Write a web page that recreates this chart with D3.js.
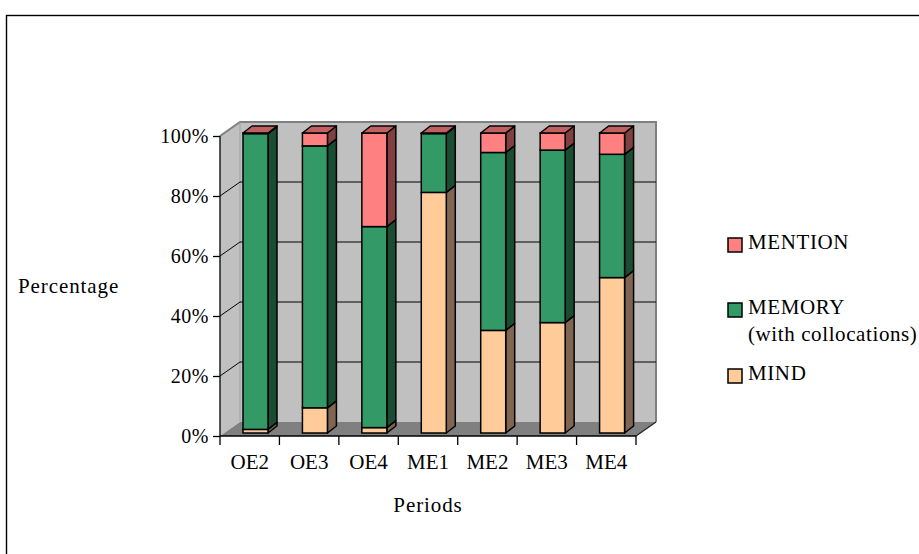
<!DOCTYPE html>
<html>
<head>
<meta charset="utf-8">
<script src="https://cdn.jsdelivr.net/npm/d3@7"></script>
<style>
  html, body { margin: 0; padding: 0; background: #fff; }
  svg { display: block; }
  svg text { font-family: "Liberation Serif", "Times New Roman", serif; fill: #000; }
</style>
</head>
<body>
<div id="chart"></div>
<script>
// Stacked 3D column chart - share of MIND / MEMORY / MENTION per period

const periods = ['OE2', 'OE3', 'OE4', 'ME1', 'ME2', 'ME3', 'ME4'];
const mind    = [1.2, 8.4, 1.8, 80.2, 34.2, 36.8, 51.8];
const memory  = [98.6, 87.3, 67.0, 19.6, 59.3, 57.5, 41.1];
const mention = [0.2, 4.3, 31.2, 0.2, 6.5, 5.7, 7.1];
const seriesNames = ['MIND', 'MEMORY', 'MENTION'];
const yTicks = [0, 20, 40, 60, 80, 100];

const frontColors = { MIND: '#FFCC99', MEMORY: '#339966', MENTION: '#FF8080' };
const sideColors  = { MIND: '#806650', MEMORY: '#1A4C33', MENTION: '#804040' };
const topColors   = { MIND: '#C09973', MEMORY: '#26734D', MENTION: '#C06060' };

const serif = '"Liberation Serif", "Times New Roman", serif';

function createChart(containerId) {
    const W = 919, H = 554;
    const depthX = 20, depthY = -14;     // wall depth
    const barDX = 9, barDY = -7;         // bar depth
    const barShiftX = 3, barShiftY = -3; // bars sit a little behind the front plane

    const svg = d3.select(`#${containerId}`)
        .append('svg')
        .attr('width', W)
        .attr('height', H);

    // outer frame
    svg.append('rect')
        .attr('x', 6.5).attr('y', 15.5)
        .attr('width', 1000).attr('height', 1000)
        .style('fill', 'none')
        .style('stroke', '#000')
        .style('stroke-width', 1.4);

    const x = d3.scaleBand()
        .domain(periods)
        .range([220, 636]);

    const y = d3.scaleLinear()
        .domain([0, 100])
        .range([436, 136]);

    const x0 = x.range()[0], x1 = x.range()[1];
    const yb = y(0), yt = y(100);
    const pts = a => a.map(p => p.join(',')).join(' ');

    // walls and floor
    svg.append('polygon')
        .attr('points', pts([[x0, yb], [x0, yt], [x0 + depthX, yt + depthY], [x0 + depthX, yb + depthY]]))
        .style('fill', '#C0C0C0');
    svg.append('rect')
        .attr('x', x0 + depthX).attr('y', yt + depthY)
        .attr('width', x1 - x0).attr('height', yb - yt)
        .style('fill', '#C0C0C0');
    svg.append('polygon')
        .attr('points', pts([[x0, yb], [x1, yb], [x1 + depthX, yb + depthY], [x0 + depthX, yb + depthY]]))
        .style('fill', '#808080');

    // wall borders
    svg.append('polyline')
        .attr('points', pts([[x0, yt], [x0 + depthX, yt + depthY], [x1 + depthX, yt + depthY], [x1 + depthX, yb + depthY]]))
        .style('fill', 'none')
        .style('stroke', '#808080')
        .style('stroke-width', 2);
    svg.append('line')
        .attr('x1', x0 + depthX).attr('x2', x0 + depthX)
        .attr('y1', yt + depthY).attr('y2', yb + depthY)
        .style('stroke', '#A0A0A0')
        .style('stroke-width', 1);
    svg.append('line')
        .attr('x1', x1).attr('y1', yb)
        .attr('x2', x1 + depthX).attr('y2', yb + depthY)
        .style('stroke', '#202020')
        .style('stroke-width', 1.2);

    // gridlines
    const grid = svg.append('g').attr('class', 'grid');
    yTicks.filter(t => t > 0 && t < 100).forEach(t => {
        grid.append('polyline')
            .attr('points', pts([[x0, y(t)], [x0 + depthX, y(t) + depthY], [x1 + depthX, y(t) + depthY]]))
            .style('fill', 'none')
            .style('stroke', '#000')
            .style('stroke-width', 1);
    });

    // stacked data
    const rows = periods.map((p, i) => ({ period: p, MIND: mind[i], MEMORY: memory[i], MENTION: mention[i] }));
    const stack = d3.stack().keys(seriesNames)(rows);

    const barW = 25, barOff = 20;
    const bars = svg.append('g').attr('class', 'bars');

    periods.forEach((p, i) => {
        const g = bars.append('g');
        const bx = x(p) + barOff + barShiftX;
        let topY = null, topKey = null;
        stack.forEach(s => {
            const d = s[i];
            const ya = y(d[0]) + barShiftY;
            const yz = y(d[1]) + barShiftY;
            g.append('polygon')
                .attr('points', pts([[bx + barW, ya], [bx + barW, yz], [bx + barW + barDX, yz + barDY], [bx + barW + barDX, ya + barDY]]))
                .style('fill', sideColors[s.key])
                .style('stroke', '#000')
                .style('stroke-width', 1.5)
                .style('stroke-linejoin', 'round');
            g.append('rect')
                .attr('x', bx).attr('y', yz)
                .attr('width', barW).attr('height', Math.max(0, ya - yz))
                .style('fill', frontColors[s.key])
                .style('stroke', '#000')
                .style('stroke-width', 1.5);
            topY = yz; topKey = s.key;
        });
        g.append('polygon')
            .attr('points', pts([[bx, topY], [bx + barW, topY], [bx + barW + barDX, topY + barDY], [bx + barDX, topY + barDY]]))
            .style('fill', topColors[topKey])
            .style('stroke', '#000')
            .style('stroke-width', 1.5)
            .style('stroke-linejoin', 'round');
    });

    // y axis
    const yAxis = svg.append('g')
        .attr('transform', `translate(${x0},0)`)
        .call(d3.axisLeft(y).tickValues(yTicks).tickSize(7).tickPadding(4).tickFormat(d => d + '%'));
    yAxis.select('.domain').attr('d', `M0,${yt}V${yb}`).style('stroke', '#000').style('stroke-width', 1.3);
    yAxis.selectAll('.tick line').style('stroke', '#000').style('stroke-width', 1.3);
    yAxis.selectAll('.tick text')
        .style('font-size', '20px')
        .style('font-family', serif)
        .style('letter-spacing', '0.5px')
        .style('fill', '#000');

    // x axis
    const xAxis = svg.append('g')
        .attr('transform', `translate(0,${yb})`)
        .call(d3.axisBottom(x).tickSize(0).tickPadding(18));
    xAxis.select('.domain').attr('d', `M${x0},0H${x1}`).style('stroke', '#000').style('stroke-width', 1.3);
    xAxis.selectAll('.tick text')
        .style('font-size', '21px')
        .style('font-family', serif)
        .style('fill', '#000');
    const bounds = periods.map(p => x(p)).concat([x1]);
    xAxis.selectAll('.bound')
        .data(bounds)
        .enter()
        .append('line')
        .attr('x1', d => d).attr('x2', d => d)
        .attr('y1', 0).attr('y2', 9)
        .style('stroke', '#000')
        .style('stroke-width', 1.3);

    // axis titles
    svg.append('text')
        .attr('x', 18).attr('y', 293)
        .style('font-family', serif)
        .style('font-size', '21px')
        .style('letter-spacing', '0.9px')
        .text('Percentage');

    svg.append('text')
        .attr('x', 428).attr('y', 512)
        .attr('text-anchor', 'middle')
        .style('font-family', serif)
        .style('font-size', '21px')
        .style('letter-spacing', '0.9px')
        .text('Periods');

    // legend
    const legendData = [
        { key: 'MENTION', lines: ['MENTION'], y: 238 },
        { key: 'MEMORY', lines: ['MEMORY', '(with collocations)'], y: 303 },
        { key: 'MIND', lines: ['MIND'], y: 369 }
    ];

    const legend = svg.append('g').attr('class', 'legend');
    const items = legend.selectAll('.legend-item')
        .data(legendData)
        .enter()
        .append('g')
        .attr('class', 'legend-item')
        .attr('transform', d => `translate(728,${d.y})`);

    items.append('rect')
        .attr('width', 14).attr('height', 14)
        .style('fill', d => frontColors[d.key])
        .style('stroke', '#000')
        .style('stroke-width', 1.5);

    items.each(function(d) {
        d.lines.forEach((ln, j) => {
            d3.select(this).append('text')
                .attr('x', 20)
                .attr('y', 11 + j * 27)
                .style('font-family', serif)
                .style('font-size', '21px')
                .style('letter-spacing', '0.6px')
                .text(ln);
        });
    });
}

createChart('chart');
</script>
</body>
</html>
